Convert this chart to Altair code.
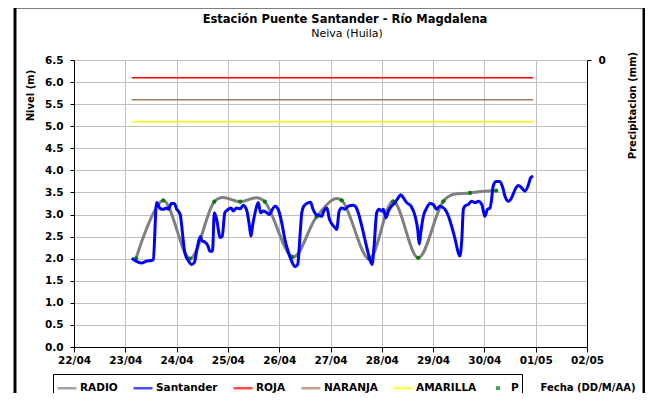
import json
import altair as alt
import pandas as pd

# ---------------- data ----------------
title_text = "Estación Puente Santander - Río Magdalena"
subtitle_text = "Neiva (Huila)"
x_title = "Fecha (DD/M/AA)"
y_title = "Nivel (m)"
y2_title = "Precipitacion (mm)"

day_labels = ["22/04", "23/04", "24/04", "25/04", "26/04", "27/04",
              "28/04", "29/04", "30/04", "01/05", "02/05"]
level_ticks = [0.0, 0.5, 1.0, 1.5, 2.0, 2.5, 3.0, 3.5, 4.0, 4.5, 5.0, 5.5, 6.0, 6.5]

series_names = ["RADIO", "Santander", "ROJA", "NARANJA", "AMARILLA", "P"]
series_colors = ["#808080", "#0000ff", "#ff0000", "#a67c52", "#ffff00", "#008000"]

# time in days since 22/04 00:00
santander_t = [
    1.125, 1.32, 1.42, 1.515, 1.545, 1.61, 1.64, 1.68, 1.74, 1.81,
    1.84, 1.90, 1.955, 2.00, 2.07, 2.10, 2.13, 2.16, 2.23, 2.29,
    2.345, 2.39, 2.46, 2.50, 2.55, 2.61, 2.65, 2.70, 2.735, 2.78,
    2.85, 2.89, 2.94, 3.01, 3.06, 3.105, 3.17, 3.24, 3.30, 3.37,
    3.42, 3.45, 3.48, 3.53, 3.59, 3.64, 3.69, 3.76, 3.81, 3.85,
    3.92, 3.98, 4.05, 4.11, 4.18, 4.24, 4.31, 4.36, 4.41, 4.44,
    4.48, 4.57, 4.61, 4.66, 4.72, 4.78, 4.83, 4.87, 4.93, 4.98,
    5.09, 5.12, 5.17, 5.22, 5.28, 5.35, 5.44, 5.49, 5.54, 5.61,
    5.67, 5.74, 5.81, 5.85, 5.90, 5.945, 6.00, 6.03, 6.08, 6.13,
    6.19, 6.26, 6.32, 6.37, 6.42, 6.485, 6.57, 6.65, 6.70, 6.73,
    6.76, 6.81, 6.875, 6.94, 7.00, 7.07, 7.13, 7.20, 7.23, 7.30,
    7.36, 7.43, 7.49, 7.52, 7.56, 7.59, 7.62, 7.69, 7.75, 7.82,
    7.88, 7.95, 7.98, 8.01, 8.06, 8.11, 8.14, 8.17, 8.23, 8.30,
    8.36, 8.40, 8.47, 8.53, 8.60, 8.66, 8.73, 8.79, 8.86, 8.90,
    8.95,
]
santander_v = [
    2.01, 1.90, 1.95, 1.96, 1.98, 3.27, 3.23, 3.13, 3.12, 3.15,
    3.12, 3.25, 3.25, 3.13, 3.00, 2.74, 2.40, 2.14, 1.95, 1.87,
    1.91, 2.17, 2.50, 2.40, 2.38, 2.29, 2.17, 2.17, 3.04, 2.89,
    2.48, 2.51, 3.04, 3.12, 3.15, 3.08, 3.15, 3.13, 3.21, 3.08,
    2.74, 2.51, 2.74, 3.04, 3.27, 3.04, 3.08, 3.04, 3.00, 3.08,
    3.19, 3.12, 2.81, 2.44, 2.14, 1.95, 1.82, 1.87, 2.59, 3.04,
    3.19, 3.27, 3.28, 3.12, 3.00, 2.98, 2.96, 3.08, 3.15, 2.89,
    2.70, 2.66, 3.08, 3.15, 3.12, 3.19, 3.21, 3.18, 3.04, 2.74,
    2.44, 2.10, 1.87, 2.29, 3.04, 3.12, 3.08, 3.12, 2.93, 3.08,
    3.19, 3.27, 3.38, 3.45, 3.38, 3.27, 3.19, 2.96, 2.66, 2.33,
    2.59, 2.96, 3.15, 3.25, 3.23, 3.12, 3.19, 3.15, 3.12, 2.96,
    2.74, 2.44, 2.14, 2.06, 2.44, 3.12, 3.19, 3.23, 3.30, 3.27,
    3.30, 3.23, 3.08, 2.96, 3.12, 3.15, 3.34, 3.64, 3.75, 3.75,
    3.60, 3.42, 3.30, 3.38, 3.57, 3.66, 3.60, 3.53, 3.68, 3.83,
    3.87,
]

radio_t = [1.21, 1.74, 2.26, 2.735, 3.24, 3.72, 4.255, 4.73, 5.22, 5.75,
           6.22, 6.71, 7.20, 7.72, 8.23]
radio_v = [2.01, 3.32, 2.00, 3.29, 3.29, 3.29, 2.04, 2.95, 3.32, 2.00,
           3.30, 2.02, 3.30, 3.49, 3.54]

threshold_names = ["ROJA", "NARANJA", "AMARILLA"]
threshold_levels = [6.1, 5.6, 5.1]
threshold_span = [1.125, 8.95]

p_t = []
p_v = []

# ---------------- frames ----------------
san_df = pd.DataFrame({"t": santander_t, "v": santander_v})
rad_df = pd.DataFrame({"t": radio_t, "v": radio_v})
thr_rows = []
for name, lvl in zip(threshold_names, threshold_levels):
    for t in threshold_span:
        thr_rows.append({"t": t, "v": lvl, "serie": name})
thr_df = pd.DataFrame(thr_rows)
p_df = pd.DataFrame({"t": pd.Series(p_t, dtype=float),
                     "v": pd.Series(p_v, dtype=float),
                     "serie": pd.Series([], dtype=str)})
one_df = pd.DataFrame({"k": [0]})

color_of = dict(zip(series_names, series_colors))
FONT = "DejaVu Sans"

x_enc = alt.X(
    "t:Q",
    scale=alt.Scale(domain=[0, 10], nice=False, zero=False),
    axis=alt.Axis(
        values=list(range(11)),
        labelExpr=json.dumps(day_labels) + "[datum.value]",
        labelFlush=False, labelOverlap=False,
        grid=True, tickSize=5, labelPadding=3,
        title=x_title, titleX=466, titleY=40, titleAlign="left",
        titleBaseline="middle", titleAnchor="start",
    ),
)
y_enc = alt.Y(
    "v:Q",
    scale=alt.Scale(domain=[0, 6.5], nice=False, zero=True),
    axis=alt.Axis(
        values=level_ticks, format=".1f", grid=True, tickSize=4, labelPadding=7,
        labelOverlap=False, labelFlush=False, tickCount=14,
        title=y_title, titleAngle=270, titleX=-44, titleY=35,
        titleAlign="center", titleBaseline="middle",
    ),
)

frame = alt.Chart(one_df).mark_rect(
    fillOpacity=0, stroke="black", strokeWidth=3
).encode(
    x=alt.value(-59), x2=alt.value(570), y=alt.value(-53), y2=alt.value(400)
)

title_mark = alt.Chart(one_df).mark_text(
    font=FONT, fontSize=11.5, fontWeight="bold", color="black",
    align="center", baseline="middle"
).encode(x=alt.value(271), y=alt.value(-40), text=alt.value(title_text))

subtitle_mark = alt.Chart(one_df).mark_text(
    font=FONT, fontSize=11, color="black", align="center", baseline="middle"
).encode(x=alt.value(273), y=alt.value(-26), text=alt.value(subtitle_text))

radio_line = alt.Chart(rad_df).mark_line(
    interpolate="cardinal", color=color_of["RADIO"], strokeWidth=3
).encode(x=x_enc, y=y_enc)

radio_pts = alt.Chart(rad_df).mark_point(
    filled=True, color="#008000", size=18, opacity=1
).encode(x=x_enc, y=y_enc)

san_line = alt.Chart(san_df).mark_line(
    interpolate="monotone", color=color_of["Santander"], strokeWidth=3
).encode(x=x_enc, y=y_enc)

thr_lines = alt.Chart(thr_df).mark_line(strokeWidth=1.5).encode(
    x=x_enc, y=y_enc,
    stroke=alt.Stroke(
        "serie:N",
        scale=alt.Scale(domain=threshold_names,
                        range=[color_of[n] for n in threshold_names]),
        legend=None,
    ),
)

inner = alt.layer(radio_line, radio_pts, san_line, thr_lines,
                  frame, title_mark, subtitle_mark)

legend_shapes = ["stroke", "stroke", "stroke", "stroke", "stroke",
                 "M-0.08,-0.08L0.08,-0.08L0.08,0.08L-0.08,0.08Z"]

legend_cfg = dict(
    title=None, orient="none", legendX=-21, legendY=314,
    direction="horizontal", columns=6, columnPadding=10,
    padding=3, symbolSize=361, symbolStrokeWidth=2.5,
    labelFont=FONT, labelFontSize=10.5, labelFontWeight="bold",
    labelColor="black", labelOffset=2,
    strokeColor="black", fillColor="white",
)

p_layer = alt.Chart(p_df).mark_point(filled=False, strokeWidth=2.5).encode(
    x=x_enc,
    y=alt.Y(
        "v:Q",
        scale=alt.Scale(domain=[0, 1], reverse=True, nice=False),
        axis=alt.Axis(
            orient="right", values=[0], format="d", grid=False, tickSize=4,
            labelPadding=7, title=y2_title, titleAngle=270, titleX=45, titleY=45,
            titleAlign="center", titleBaseline="middle",
        ),
    ),
    color=alt.Color(
        "serie:N",
        scale=alt.Scale(domain=series_names, range=series_colors),
        legend=alt.Legend(**legend_cfg),
    ),
    shape=alt.Shape(
        "serie:N",
        scale=alt.Scale(domain=series_names, range=legend_shapes),
        legend=alt.Legend(**legend_cfg),
    ),
)

chart = alt.layer(inner, p_layer).resolve_scale(y="independent").properties(
    width=513,
    height=287,
    autosize=alt.AutoSizeParams(type="none"),
    padding={"left": 66, "top": 52, "right": 58, "bottom": 46},
).configure_view(strokeWidth=0).configure_axis(
    labelFont=FONT, labelFontSize=10.5, labelFontWeight="bold", labelColor="black",
    titleFont=FONT, titleFontSize=10, titleFontWeight="bold", titleColor="black",
    domainColor="black", domainWidth=1, tickColor="black", tickWidth=1,
    gridColor="#c0c0c0", gridWidth=1,
)

chart.save("out.html", embed_options={"renderer": "svg", "actions": False})
